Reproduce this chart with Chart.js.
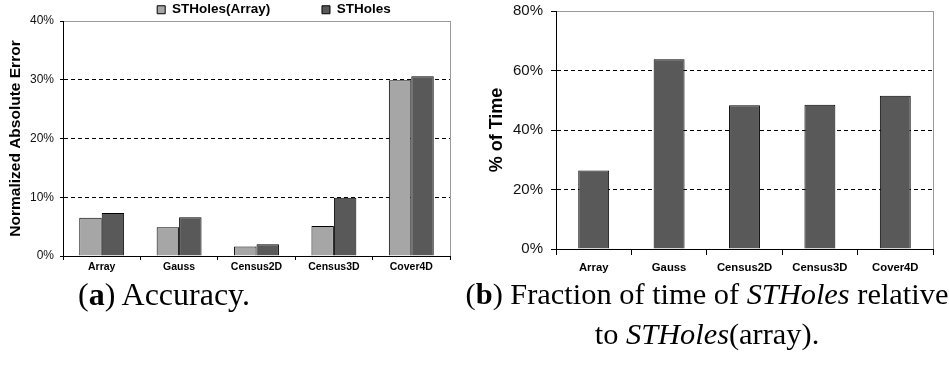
<!DOCTYPE html>
<html><head><meta charset="utf-8">
<script src="https://cdn.jsdelivr.net/npm/chart.js@4/dist/chart.umd.min.js"></script>
<style>
html,body{margin:0;padding:0;background:#fff;}
body{width:949px;height:369px;position:relative;overflow:hidden;}
#wrapA{position:absolute;left:0;top:0;width:543px;height:280px;}
#wrapB{position:absolute;left:470px;top:0;width:479px;height:280px;}
.cap{position:absolute;font-family:"Liberation Serif","Times New Roman",serif;line-height:40px;color:#000;text-align:center;white-space:nowrap;}
</style></head><body>
<div id="wrapA"><canvas id="chartA" width="543" height="280"></canvas></div>
<div id="wrapB"><canvas id="chartB" width="479" height="280"></canvas></div>
<div class="cap" style="left:0;top:274px;width:328px;font-size:32px;">(<b>a</b>) Accuracy.</div>
<div class="cap" style="left:462px;top:274px;width:490px;font-size:30.4px;">(<b>b</b>) Fraction of time of <i>STHoles</i> relative<br>to <i>STHoles</i>(array).</div>
<script>
const categories = ['Array', 'Gauss', 'Census2D', 'Census3D', 'Cover4D'];
const seriesNames = ['STHoles(Array)', 'STHoles'];
const errorSTHolesArray = [6.5, 4.9, 1.6, 5.1, 29.9];
const errorSTHoles = [7.3, 6.6, 2.0, 9.9, 30.6];
const timeFraction = [26.4, 63.8, 48.3, 48.5, 51.5];
const errorTicks = [0, 10, 20, 30, 40];
const timeTicks = [0, 20, 40, 60, 80];

const SANS = '"Liberation Sans",Arial,sans-serif';

function yScale(ticksArr, maxV, opts) {
  return {
    min: 0, max: maxV,
    afterBuildTicks: s => { s.ticks = ticksArr.map(v => ({ value: v })); },
    ticks: { callback: v => v + '%', font: { family: SANS, size: opts.tickSize }, color: '#111', padding: opts.tickPad },
    grid: {
      color: c => (c.tick && c.tick.value === maxV) ? '#9a9a9a' : '#000',
      tickColor: '#000', tickLength: opts.tickLen, tickBorderDash: [], lineWidth: 1
    },
    border: { color: '#000', width: 1, dash: c => (c.tick && c.tick.value === maxV) ? [] : [4, 3] },
    title: { display: true, text: opts.title, color: '#000',
      font: { family: SANS, size: opts.titleSize, weight: 'bold' }, padding: { top: opts.titlePad, bottom: 0 } },
    afterFit: s => { s.width = opts.width; s.paddingTop = 0; s.paddingBottom = 0; }
  };
}

function xScale(opts) {
  return {
    offset: true,
    grid: { offset: true, drawOnChartArea: true,
      color: c => c.type === 'scale' ? '#9a9a9a' : 'rgba(0,0,0,0)',
      tickColor: '#000', tickLength: opts.tickLen, lineWidth: 1 },
    border: { color: '#000', width: 1 },
    ticks: { font: { family: SANS, size: opts.fontSize, weight: 'bold' }, color: '#000',
      padding: opts.pad, maxRotation: 0, autoSkip: false },
    afterFit: s => { s.height = opts.height; }
  };
}

new Chart(document.getElementById('chartA'), {
  type: 'bar',
  data: {
    labels: categories,
    datasets: [
      { label: seriesNames[0], data: errorSTHolesArray, backgroundColor: '#a6a6a6', borderColor: '#000', borderWidth: 1,
        categoryPercentage: 0.58, barPercentage: 1.0 },
      { label: seriesNames[1], data: errorSTHoles, backgroundColor: '#595959', borderColor: '#000', borderWidth: 1,
        categoryPercentage: 0.58, barPercentage: 1.0 }
    ]
  },
  options: {
    responsive: false, animation: false, devicePixelRatio: 1,
    layout: { padding: { left: 0, right: 93, top: 0, bottom: 0 } },
    plugins: {
      tooltip: { enabled: false },
      legend: {
        display: true, position: 'top', align: 'end', maxHeight: 21,
        labels: {
          boxWidth: 8, boxHeight: 8, padding: 3, color: '#000',
          font: { family: SANS, size: 13.5, weight: 'bold' },
          generateLabels(chart) {
            const items = Chart.defaults.plugins.legend.labels.generateLabels(chart);
            items[0].text = items[0].text + '             ';
            items[1].text = items[1].text + '               ';
            return items;
          }
        }
      }
    },
    scales: {
      x: xScale({ tickLen: 4, fontSize: 10.5, pad: 1, height: 24 }),
      y: yScale(errorTicks, 40, { tickSize: 12, tickPad: 6, tickLen: 3, title: 'Normalized Absolute Error', titleSize: 15.5, titlePad: 6.5, width: 63 })
    }
  }
});

new Chart(document.getElementById('chartB'), {
  type: 'bar',
  data: {
    labels: categories,
    datasets: [
      { label: 'STHoles / STHoles(array)', data: timeFraction, backgroundColor: '#595959', borderColor: '#000', borderWidth: 1,
        categoryPercentage: 0.41, barPercentage: 1.0 }
    ]
  },
  options: {
    responsive: false, animation: false, devicePixelRatio: 1,
    layout: { padding: { left: 0, right: 16, top: 11, bottom: 0 } },
    plugins: { tooltip: { enabled: false }, legend: { display: false } },
    scales: {
      x: xScale({ tickLen: 6, fontSize: 11.3, pad: 6, height: 31 }),
      y: yScale(timeTicks, 80, { tickSize: 15, tickPad: 8, tickLen: 5, title: '% of Time', titleSize: 18, titlePad: 16, width: 86 })
    }
  }
});
</script>
</body></html>
